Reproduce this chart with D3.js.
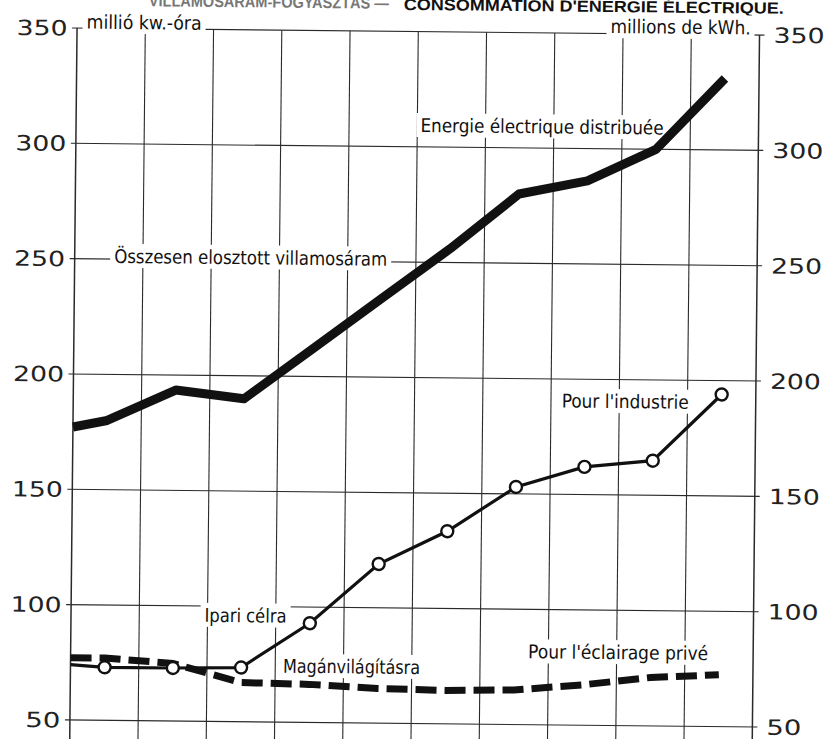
<!DOCTYPE html>
<html>
<head>
<meta charset="utf-8">
<script src="https://cdn.jsdelivr.net/npm/d3@7"></script>
<style>
  body { margin: 0; background: #fff; }
  svg { display: block; }
  .lbl { font-family: "Liberation Sans Narrow", "DejaVu Sans Condensed", "Liberation Sans", sans-serif; font-size: 19px; fill: #111; }
  .tick { font-family: "DejaVu Sans", sans-serif; font-size: 21px; fill: #222; }
  .head { font-family: "Liberation Sans", sans-serif; font-size: 16px; font-weight: bold; }
</style>
</head>
<body>
<div id="chart"></div>
<script>
(function () {

// columns of the grid (one per year, years not printed)
var periods = [1, 2, 3, 4, 5, 6, 7, 8, 9, 10];
var yTicks = [50, 100, 150, 200, 250, 300, 350];

// value where each line leaves the left frame
var totalStart = 177,
    industryStart = 74,
    lightingStart = 77;

// millió kw.-óra / millions de kWh.
var total    = [180, 193.5, 190, 212, 234, 256, 280, 286, 300, 331];
var industry = [73, 73, 73.5, 93, 119, 133.5, 153, 162, 165, 194];
var lighting = [77, 75, 67, 66.5, 65, 64.5, 65, 67.5, 71, 72.5];

var width = 829, height = 739;

var x = d3.scaleBand().domain(periods).range([73.5, 756]);
var y = d3.scaleLinear().domain([50, 350]).range([723.5, 31.5]);

var svg = d3.select('#chart')
            .append('svg')
            .attr('width', width)
            .attr('height', height);

// the page was scanned a little askew
var g = svg.append('g').attr('transform', 'rotate(0.59,414,375)');

var x0 = x.range()[0], x1 = x.range()[1];

// header, cut off by the top of the page
g.append('text').attr('class', 'head').attr('x', 145).attr('y', 9)
  .attr('fill', '#777').attr('textLength', 240).attr('lengthAdjust', 'spacingAndGlyphs')
  .text('VILLAMOSÁRAM-FOGYASZTÁS  —');
g.append('text').attr('class', 'head').attr('x', 400).attr('y', 10)
  .attr('fill', '#111').attr('textLength', 380).attr('lengthAdjust', 'spacingAndGlyphs')
  .text("CONSOMMATION D'ÉNERGIE ÉLECTRIQUE.");

// grid
var grid = g.append('g').attr('stroke', '#2a2a2a').attr('stroke-width', 1.1);

grid.selectAll('line.h')
    .data(yTicks)
    .enter().append('line')
    .attr('class', 'h')
    .attr('x1', x0 - 5).attr('x2', x1 + 5)
    .attr('y1', function (d) { return y(d); })
    .attr('y2', function (d) { return y(d); });

var verticals = periods.map(function (p) { return x(p); }).concat([x1]);
grid.selectAll('line.v')
    .data(verticals)
    .enter().append('line')
    .attr('class', 'v')
    .attr('x1', function (d) { return d; })
    .attr('x2', function (d) { return d; })
    .attr('y1', y(350))
    .attr('y2', height + 15)
    .attr('stroke-width', function (d, i) { return (i === 0 || i === verticals.length - 1) ? 1.5 : 1.1; });

// tick labels, both sides
g.selectAll('text.tl')
    .data(yTicks)
    .enter().append('text')
    .attr('class', 'tick')
    .attr('x', 64)
    .attr('y', function (d) { return y(d); })
    .attr('dy', '0.36em')
    .attr('text-anchor', 'end')
    .attr('textLength', function (d) { return d < 100 ? 35 : 51; })
    .attr('lengthAdjust', 'spacingAndGlyphs')
    .text(function (d) { return d; });

g.selectAll('text.tr')
    .data(yTicks)
    .enter().append('text')
    .attr('class', 'tick')
    .attr('x', 770)
    .attr('y', function (d) { return y(d); })
    .attr('dy', '0.36em')
    .attr('textLength', function (d) { return d < 100 ? 35 : 51; })
    .attr('lengthAdjust', 'spacingAndGlyphs')
    .text(function (d) { return d; });

// labels: white box first so the grid is broken behind them
var labelLayer = g.append('g');
function label(txt, lx, ly, len) {
  var t = labelLayer.append('text')
      .attr('class', 'lbl')
      .attr('x', lx).attr('y', ly)
      .attr('textLength', len)
      .attr('lengthAdjust', 'spacingAndGlyphs')
      .text(txt);
  var b = t.node().getBBox();
  labelLayer.insert('rect', 'text')
      .attr('x', b.x - 4).attr('y', b.y - 1)
      .attr('width', b.width + 8).attr('height', b.height + 2)
      .attr('fill', '#fff');
}

label('millió kw.-óra', 83, 32, 115);
label('millions de kWh.', 607, 31, 140);
label('Energie électrique distribuée', 418, 132, 243);
label('Összesen elosztott villamosáram', 113, 266, 273);
label("Pour l'industrie", 562, 406, 127);
label('Ipari célra', 207, 624, 82);
label('Magánvilágításra', 286, 674, 137);
label("Pour l'éclairage privé", 531, 657, 180);

// series
function series(start, vals) {
  return [{x: x0, v: start}].concat(periods.map(function (p, i) {
    return {x: x(p) + x.bandwidth() / 2, v: vals[i]};
  }));
}

var line = d3.line()
             .x(function (d) { return d.x; })
             .y(function (d) { return y(d.v); });

g.append('path')
    .datum(series(lightingStart, lighting))
    .attr('fill', 'none')
    .attr('stroke', '#111')
    .attr('stroke-width', 7)
    .attr('stroke-dasharray', '21 8')
    .attr('d', line);

g.append('path')
    .datum(series(totalStart, total))
    .attr('fill', 'none')
    .attr('stroke', '#111')
    .attr('stroke-width', 9)
    .attr('stroke-linejoin', 'round')
    .attr('d', line);

var ind = series(industryStart, industry);
g.append('path')
    .datum(ind)
    .attr('fill', 'none')
    .attr('stroke', '#111')
    .attr('stroke-width', 3.2)
    .attr('d', line);

g.selectAll('circle.ind')
    .data(ind.slice(1))
    .enter().append('circle')
    .attr('class', 'ind')
    .attr('cx', function (d) { return d.x; })
    .attr('cy', function (d) { return y(d.v); })
    .attr('r', 6)
    .attr('fill', '#fff')
    .attr('stroke', '#111')
    .attr('stroke-width', 2.4);

})();
</script>
</body>
</html>
